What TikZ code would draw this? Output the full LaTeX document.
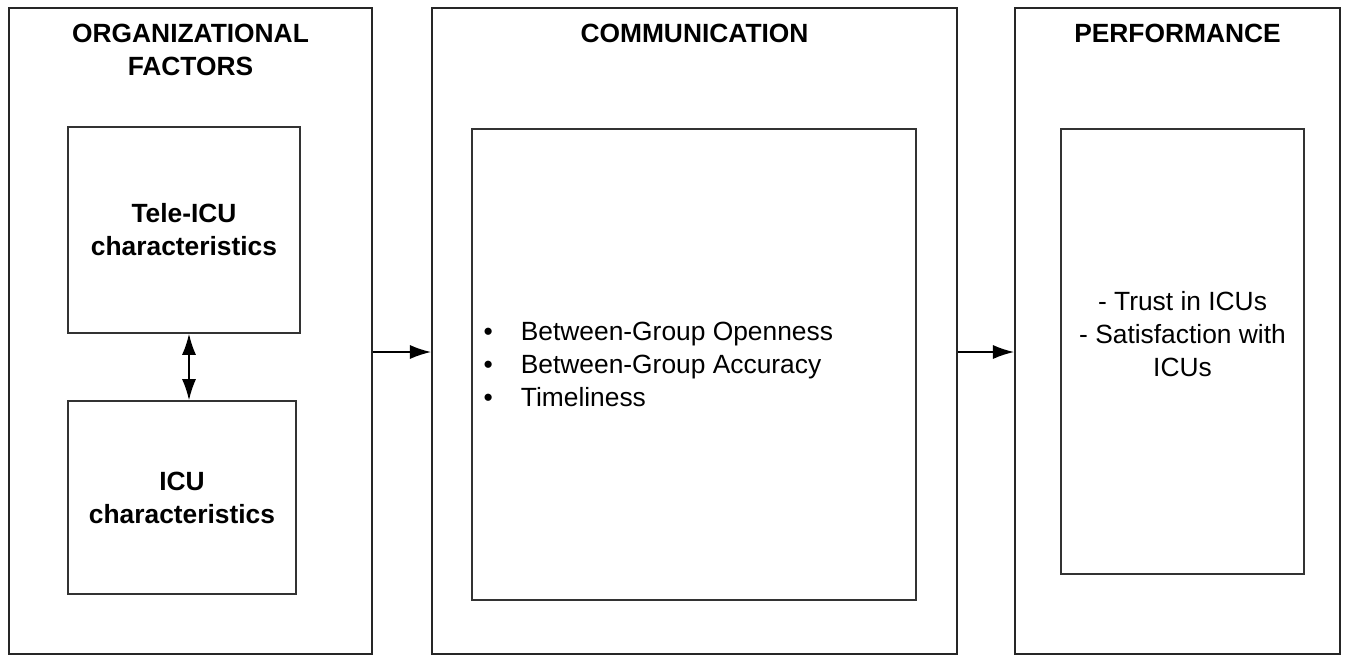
\documentclass[tikz,border=0pt]{standalone}
\usepackage{fontspec}
\setmainfont{Liberation Sans}
\usetikzlibrary{arrows.meta,positioning}

\begin{document}
\begin{tikzpicture}[>={Latex[length=12pt,width=8pt]},
    font=\fontsize{15pt}{18.8pt}\selectfont,
    panel/.style={draw=black!85, line width=1.1pt, inner sep=0pt, minimum height=12.92cm},
    inbox/.style={draw=black!80, line width=0.9pt, inner sep=0pt, align=center},
    heading/.style={inner sep=0pt, align=center, font=\fontsize{15pt}{18.8pt}\selectfont\bfseries}]
    \useasboundingbox (0,0) rectangle (26.94,-13.12);

    % the three stages
    \node[panel, minimum width=7.26cm] (org) at (3.81,-6.62) {};
    \node[panel, minimum width=10.5cm] (comm) at (13.89,-6.62) {};
    \node[panel, minimum width=6.5cm] (perf) at (23.55,-6.62) {};

    \node[heading, below=0.34cm of org.north] (orghead) {ORGANIZATIONAL\\FACTORS};
    \node[heading, below=0.34cm of comm.north] (commhead) {COMMUNICATION};
    \node[heading, below=0.34cm of perf.north] (perfhead) {PERFORMANCE};

    \node[inbox, heading, draw, minimum width=4.64cm, minimum height=4.12cm] (tele) at (3.68,-4.6) {Tele-ICU\\characteristics};
    \node[inbox, heading, draw, minimum width=4.56cm, minimum height=3.86cm] (icu) at (3.64,-9.95) {ICU\\characteristics};
    \node[inbox, minimum width=8.88cm, minimum height=9.42cm] (commin) at (13.88,-7.29) {};
    \node[inbox, minimum width=4.86cm, minimum height=8.9cm] (perfin) at (23.65,-7.03) {};

    \node[right=0.24cm of commin.west, align=left, inner sep=0pt] (commlist)
        {\textbullet\hspace{16pt}Between-Group Openness\\
         \textbullet\hspace{16pt}Between-Group Accuracy\\
         \textbullet\hspace{16pt}Timeliness};
    \node[align=center, inner sep=0pt] (perflist) at ([yshift=0.35cm]perfin.center)
        {- Trust in ICUs\\- Satisfaction with\\ICUs};

    % links
    \coordinate (flow) at (0,-7.04);
    \coordinate (link) at (3.78,0);
    \draw[->, line width=0.9pt] (org.east |- flow) -- (comm.west |- flow);
    \draw[->, line width=0.9pt] (comm.east |- flow) -- (perf.west |- flow);
    \draw[<->, line width=0.9pt] (tele.south -| link) -- (icu.north -| link);
\end{tikzpicture}
\end{document}
